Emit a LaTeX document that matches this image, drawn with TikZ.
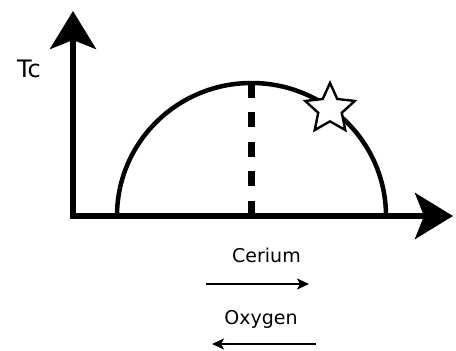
\documentclass[tikz,border=0pt]{standalone}
\usepackage{fontspec}
\setmainfont{DejaVu Sans}
\usetikzlibrary{arrows.meta, shapes.geometric, positioning}

\begin{document}
\begin{tikzpicture}[x=1pt, y=1pt,
    axis/.style={line width=5.5pt, -{Stealth[length=38pt, width=46pt, inset=9pt]}},
    dome/.style={line width=4.5pt},
    small/.style={line width=2pt, -{Stealth[length=12pt, width=11pt, inset=3pt]}},
    lbl/.style={font=\fontsize{19}{21}\selectfont, inner sep=0pt}]
\useasboundingbox (0,0) rectangle (456,351);

% Axes
\coordinate (O) at (73,135);
\coordinate (ytip) at (73,340);
\coordinate (xtip) at (453,135);
\draw[axis] ([yshift=-2.7pt]O) -- (ytip);
\draw[axis] ([xshift=-2.7pt]O) -- (xtip);
\node[font=\fontsize{24}{26}\selectfont, inner sep=0pt] (tc) at (29,282) {Tc};

% Dome
\coordinate (C) at (251.5,135);
\coordinate (top) at (251.5,268);
\draw[dome] (117,135) arc[start angle=180, end angle=0, x radius=134.5, y radius=133];
\draw[line width=7pt, dash pattern=on 15pt off 14.5pt] (top) -- (C);

% Star
\node[star, star points=5, star point ratio=2.1, minimum size=52pt, inner sep=0pt,
      draw, fill=white, line width=2.4pt] (st) at (330,242) {};

% Cerium / Oxygen
\node[lbl] (ce) at (266.5,96) {Cerium};
\coordinate (ce1) at (206,67);
\coordinate (ce2) at (309,67);
\draw[small] (ce1) -- (ce2);
\node[lbl] (ox) at (261,32) {Oxygen};
\coordinate (ox1) at (316,7);
\coordinate (ox2) at (212,7);
\draw[small] (ox1) -- (ox2);

\end{tikzpicture}
\end{document}
